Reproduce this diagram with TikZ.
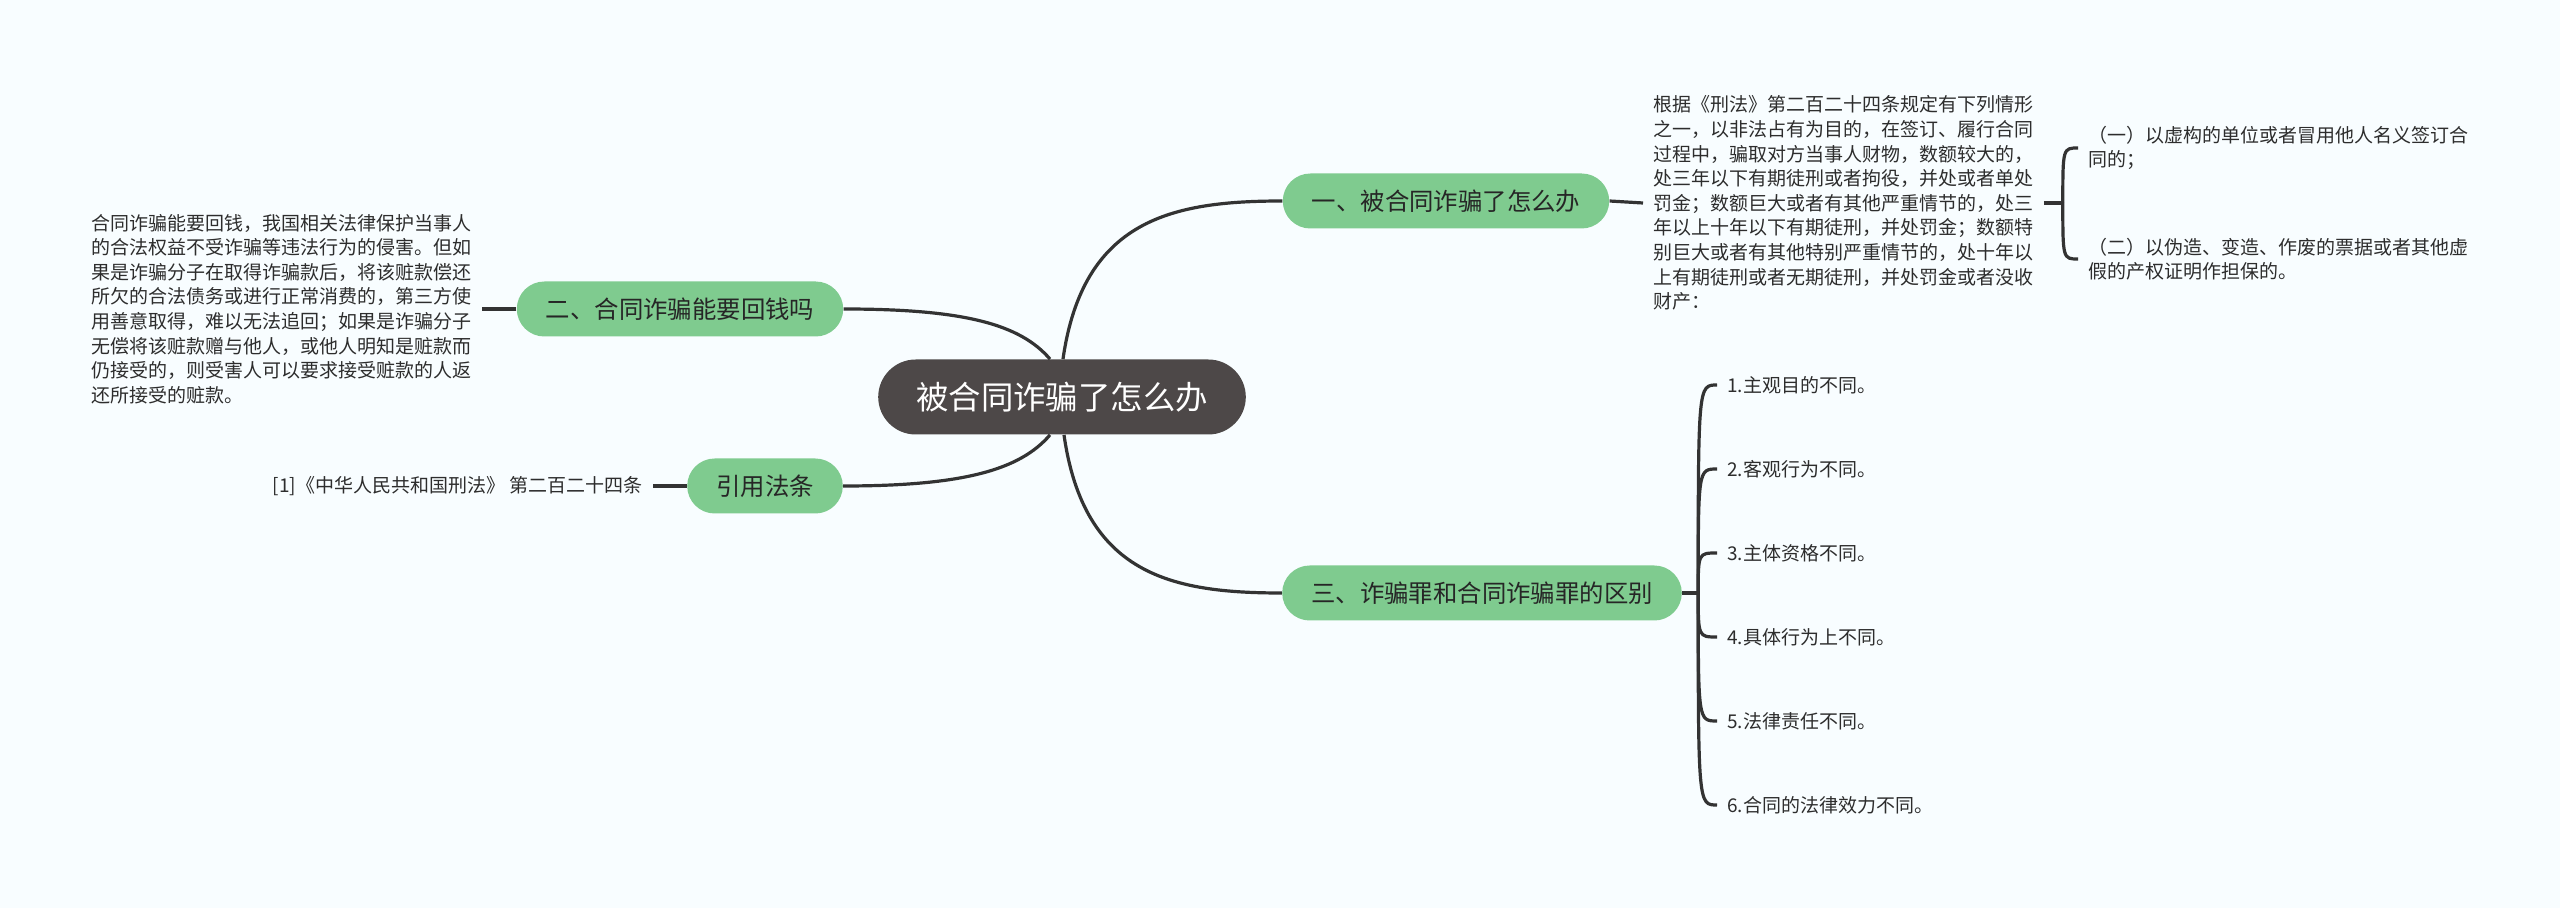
\documentclass[tikz,border=0pt]{standalone}
\usepackage{fontspec}
\setmainfont{Noto Sans CJK SC}
\usepackage{xcolor}
\definecolor{bgcol}{RGB}{248,253,255}
\definecolor{rootfill}{RGB}{77,72,72}
\definecolor{branchfill}{RGB}{127,203,143}
\definecolor{linecol}{RGB}{51,51,51}
\definecolor{leafgray}{RGB}{45,45,45}
\newcommand{\leaffont}{\fontsize{9.5}{12.3}\selectfont}
\newcommand{\branchfont}{\fontsize{12.2}{14}\selectfont}
\newcommand{\rootfont}{\fontsize{16.2}{18}\selectfont}

\begin{document}
\begin{tikzpicture}[x=0.5pt,y=-0.5pt,
    rootbox/.style={fill=rootfill,text=white,font=\rootfont,minimum height=37.5pt,inner xsep=19pt,rounded corners=18.75pt},
    branchbox/.style={fill=branchfill,text=black!85,font=\branchfont,minimum height=27.5pt,inner xsep=14.5pt,rounded corners=13.75pt},
    leaf/.style={text=leafgray,font=\leaffont,align=left,inner xsep=5pt,inner ysep=2pt},
    link/.style={draw=linecol,line width=1.6pt}]
\fill[bgcol] (0,0) rectangle (2560,908);
\useasboundingbox (0,0) rectangle (2560,908);

% centre and main branches
\node[rootbox] (root) at (1062,397) {被合同诈骗了怎么办};
\node[branchbox] (yi) at (1446,201) {一、被合同诈骗了怎么办};
\node[branchbox] (er) at (680,309) {二、合同诈骗能要回钱吗};
\node[branchbox] (yinyong) at (765,486) {引用法条};
\node[branchbox] (san) at (1482,593) {三、诈骗罪和合同诈骗罪的区别};

\draw[link] ([xshift=0.5pt]root.north) .. controls +(20,-140) and +(-110,0) .. (yi.west);
\draw[link] ([xshift=-6pt]root.north) .. controls +(-30,-35) and +(120,0) .. (er.east);
\draw[link] ([xshift=-6pt]root.south) .. controls +(-30,35) and +(120,0) .. (yinyong.east);
\draw[link] ([xshift=1pt]root.south) .. controls +(20,140) and +(-110,0) .. (san.west);

% branch one
\node[leaf,anchor=west] (p1) at (1643,203) {根据《刑法》第二百二十四条规定有下列情形\\
之一，以非法占有为目的，在签订、履行合同\\
过程中，骗取对方当事人财物，数额较大的，\\
处三年以下有期徒刑或者拘役，并处或者单处\\
罚金；数额巨大或者有其他严重情节的，处三\\
年以上十年以下有期徒刑，并处罚金；数额特\\
别巨大或者有其他特别严重情节的，处十年以\\
上有期徒刑或者无期徒刑，并处罚金或者没收\\
财产：};
\draw[link] (yi.east) -- (p1.west);
\coordinate (yij) at ([xshift=9.5pt]p1.east);
\draw[link] (p1.east) -- (yij);
\node[leaf,anchor=west] (q1) at (2078,148) {（一）以虚构的单位或者冒用他人名义签订合\\同的；};
\node[leaf,anchor=west] (q2) at (2078,259) {（二）以伪造、变造、作废的票据或者其他虚\\假的产权证明作担保的。};
\foreach \q in {q1,q2}{
    \draw[link] (yij) .. controls (yij |- \q.west) .. (\q.west);
}

% branch two
\node[leaf,anchor=east] (p2) at (482,309) {合同诈骗能要回钱，我国相关法律保护当事人\\
的合法权益不受诈骗等违法行为的侵害。但如\\
果是诈骗分子在取得诈骗款后，将该赃款偿还\\
所欠的合法债务或进行正常消费的，第三方使\\
用善意取得，难以无法追回；如果是诈骗分子\\
无偿将该赃款赠与他人，或他人明知是赃款而\\
仍接受的，则受害人可以要求接受赃款的人返\\
还所接受的赃款。};
\draw[link] (er.west) -- (p2.east);

% cited law
\node[leaf,anchor=east] (ref) at (653,486) {[1]《中华人民共和国刑法》 第二百二十四条};
\draw[link] (yinyong.west) -- (ref.east);

% branch three
\coordinate (sanj) at ([xshift=8pt]san.east);
\draw[link] (san.east) -- (sanj);
\foreach \txt [count=\i] in {1.主观目的不同。, 2.客观行为不同。, 3.主体资格不同。,
    4.具体行为上不同。, 5.法律责任不同。, 6.合同的法律效力不同。}{
    \node[leaf,anchor=west] (s\i) at (1717,{301+84*\i}) {\txt};
    \draw[link] (sanj) .. controls (sanj |- s\i.west) .. (s\i.west);
}
\end{tikzpicture}
\end{document}
